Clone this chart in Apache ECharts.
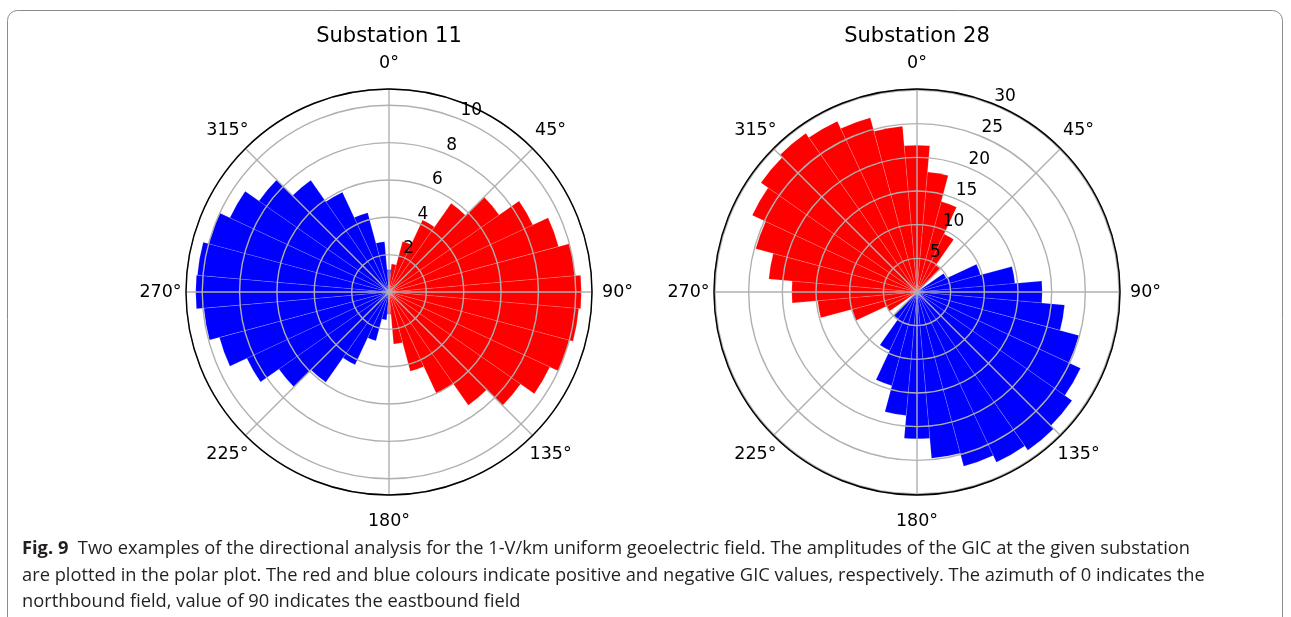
<!DOCTYPE html>
<html>
<head>
<meta charset="utf-8">
<title>Fig. 9</title>
<script src="https://cdn.jsdelivr.net/npm/echarts@6/dist/echarts.min.js"></script>
<style>
  html, body { margin: 0; padding: 0; background: #fff; }
  #fig { width: 1291px; height: 617px; }
</style>
</head>
<body>
<div id="fig"></div>
<script>
/* jshint esversion: 6 */

// bar centres (azimuth, degrees)
const azimuth = [0, 10, 20, 30, 40, 50, 60, 70, 80, 90, 100, 110, 120, 130, 140, 150, 160, 170,
  180, 190, 200, 210, 220, 230, 240, 250, 260, 270, 280, 290, 300, 310, 320, 330, 340, 350];

// GIC (A), sign = direction: + red, - blue
const gicSub11 = [-1.2, 1.5, 2.8, 4.25, 5.8, 7.2, 8.5, 9.4, 10.0, 10.3, 10.2, 10.0, 9.5, 8.6, 7.4, 6.0, 4.4, 2.8,
  1.2, -1.5, -2.7, -4.3, -5.9, -7.2, -8.4, -9.4, -9.95, -10.35, -10.3, -10.0, -9.4, -8.5, -7.3, -5.9, -4.4, -2.7];
const gicSub28 = [21.8, 17.9, 13.9, 9.5, 4.9, 0, -4.8, -9.75, -14.6, -18.6, -22.0, -24.9, -26.8, -28.1, -28.7, -27.9, -26.8, -24.8,
  -21.8, -18.4, -14.4, -9.6, -4.9, 0, 5.0, 10.0, 14.8, 18.6, 22.1, 24.8, 27.0, 28.3, 28.8, 28.0, 26.8, 24.7];

const thetaTicks = [0, 45, 90, 135, 180, 225, 270, 315];
const rTicksSub11 = [2, 4, 6, 8, 10];
const rTicksSub28 = [5, 10, 15, 20, 25, 30];

const titles = ['Substation 11', 'Substation 28'];

const colorPos = '#ff0000';
const colorNeg = '#0000ff';
const gridColor = '#b0b0b0';
const mplFont = 'DejaVu Sans';

// =====================================================================================================================
// padding of each theta label so that the text ends up centred outside the circle
const thetaPad = {
  0: [0, 0, 22, 0],
  45: [0, 0, 13, 6],
  90: [0, 0, 0, 15],
  135: [13, 0, 0, 0.5],
  180: [22, 0, 0, 0],
  225: [13, 0.5, 0, 0],
  270: [0, 9.4, 0, 0],
  315: [0, 0.5, 13, 0]
};
let thetaRich = {};
for (let t of thetaTicks) {
  thetaRich['a' + t] = {
    fontFamily: mplFont,
    fontSize: 17.5,
    color: '#000',
    padding: thetaPad[t]
  };
}

function barData(values) {
  return values.map(v => ({
    value: Math.abs(v),
    itemStyle: {color: v >= 0 ? colorPos : colorNeg}
  }));
}

// one plot = three polars on top of each other: bars, grid, radial labels + rim
function buildPlot(idx, cx, rmax, rStep, rTicks, values, opt) {
  const center = [cx, 292];
  const radius = 203;
  const base = idx * 3;
  for (let k = 0; k < 3; k++) {
    opt.polar.push({center: center, radius: radius});
  }

  // bars
  opt.angleAxis.push({
    polarIndex: base, type: 'category', data: azimuth, startAngle: 95, clockwise: true,
    axisLine: {show: false}, axisTick: {show: false}, axisLabel: {show: false}, splitLine: {show: false}
  });
  opt.radiusAxis.push({
    polarIndex: base, type: 'value', min: 0, max: rmax,
    axisLine: {show: false}, axisTick: {show: false}, axisLabel: {show: false}, splitLine: {show: false}
  });

  // grid
  opt.angleAxis.push({
    polarIndex: base + 1, type: 'value', min: 0, max: 360, interval: 45, startAngle: 90, clockwise: true, z: 10,
    axisLine: {show: false}, axisTick: {show: false},
    axisLabel: {
      margin: -5,
      formatter: v => thetaTicks.includes(v) ? '{a' + v + '|' + v + '°}' : '',
      rich: thetaRich
    },
    splitLine: {show: true, lineStyle: {color: gridColor, width: 1.4}}
  });
  opt.radiusAxis.push({
    polarIndex: base + 1, type: 'value', min: 0, max: rmax, interval: rStep, z: 10,
    axisLine: {show: false}, axisTick: {show: false}, axisLabel: {show: false},
    splitLine: {show: true, lineStyle: {color: gridColor, width: 1.4}}
  });

  // radial tick labels at 22.5 deg, black rim
  opt.angleAxis.push({
    polarIndex: base + 2, type: 'value', min: 0, max: 360, startAngle: 67.5, clockwise: true, z: 12,
    axisLine: {show: true, lineStyle: {color: '#000', width: 1.4}},
    axisTick: {show: false}, axisLabel: {show: false}, splitLine: {show: false}
  });
  opt.radiusAxis.push({
    polarIndex: base + 2, type: 'value', min: 0, max: rmax, interval: rStep, z: 12,
    axisLine: {show: false}, axisTick: {show: false}, splitLine: {show: false},
    axisLabel: {
      show: true, margin: 0, align: 'left', verticalAlign: 'bottom',
      fontFamily: mplFont, fontSize: 17, color: '#000',
      formatter: v => rTicks.includes(v) ? String(v) : ''
    }
  });

  opt.series.push({
    name: titles[idx],
    type: 'bar',
    coordinateSystem: 'polar',
    polarIndex: base,
    barCategoryGap: '0%',
    silent: true,
    itemStyle: {borderColor: 'rgba(255,255,255,0.3)', borderWidth: 0.5},
    data: barData(values)
  });

  opt.title.push({
    text: titles[idx], left: cx, top: 26, textAlign: 'center', padding: 0,
    textStyle: {fontFamily: mplFont, fontSize: 21, fontWeight: 'normal', color: '#000'}
  });
}

// =====================================================================================================================
const chartDom = document.getElementById('fig');
const chart = echarts.init(chartDom, null, {renderer: 'canvas'});

let option = {
  animation: false,
  backgroundColor: '#fff',
  title: [],
  polar: [],
  angleAxis: [],
  radiusAxis: [],
  series: [],
  graphic: [
    {
      type: 'rect', z: -1, silent: true,
      shape: {x: 7.5, y: 10.5, width: 1275, height: 660, r: 10},
      style: {fill: 'none', stroke: '#8c8c8c', lineWidth: 1}
    }
  ]
};

buildPlot(0, 389, 10.87, 2, rTicksSub11, gicSub11, option);
buildPlot(1, 917, 30.15, 5, rTicksSub28, gicSub28, option);

// caption
option.title.push({
  text: [
    '{b|Fig. 9}  Two examples of the directional analysis for the 1-V/km uniform geoelectric field. The amplitudes of the GIC at the given substation',
    'are plotted in the polar plot. The red and blue colours indicate positive and negative GIC values, respectively. The azimuth of 0 indicates the',
    'northbound field, value of 90 indicates the eastbound field'
  ].join('\n'),
  left: 22, top: 536, padding: 0,
  textStyle: {
    fontFamily: 'Open Sans', fontSize: 18.3, fontWeight: 'normal', color: '#231f20', lineHeight: 26.5,
    rich: {
      b: {fontFamily: 'Open Sans', fontSize: 18.3, fontWeight: 'bold', color: '#231f20', lineHeight: 26.5}
    }
  }
});

option && chart.setOption(option);
</script>
</body>
</html>
